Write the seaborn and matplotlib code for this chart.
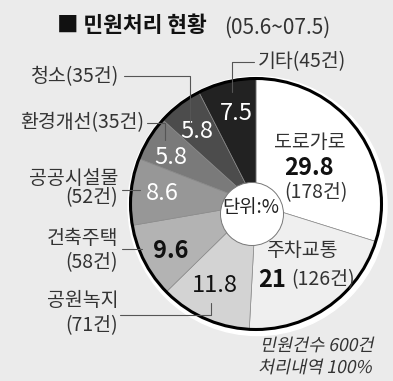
import matplotlib
matplotlib.use("Agg")
import matplotlib.pyplot as plt
import seaborn as sns
from matplotlib.patches import Circle, PathPatch
from matplotlib.textpath import TextPath
from matplotlib.font_manager import FontProperties
from matplotlib.transforms import Affine2D

# Data (clockwise from 12 o'clock)
categories = ["도로가로", "주차교통", "공원녹지", "건축주택", "공공시설물", "환경개선", "청소", "기타"]
percents = [29.8, 21, 11.8, 9.6, 8.6, 5.8, 5.8, 7.5]
counts = [178, 126, 71, 58, 52, 35, 35, 45]
shades = ["#ffffff", "#efefef", "#d3d3d3", "#b3b3b3", "#979797", "#7a7a7a", "#4c4c4c", "#222222"]

title_main = "■ 민원처리 현황"
title_period = "(05.6~07.5)"
unit_label = "단위:%"
footnote = ["민원건수 600건", "처리내역 100%"]

sns.set_theme(style="white")
plt.rcParams["font.family"] = ["Noto Sans CJK KR", "DejaVu Sans"]
BG = "#ebebeb"

fig = plt.figure(figsize=(3.93, 3.81), dpi=100, facecolor=BG)
ax = fig.add_axes([0, 0, 1, 1])
ax.set_facecolor(BG)

CX, CY, R = 256, 204, 125.5

# white halo + pie
ax.add_patch(Circle((CX + 1.5, CY + 2), R + 4, color="white", zorder=0))
wedges, _ = ax.pie(percents, colors=shades, startangle=-90, counterclock=True,
                   center=(CX, CY), radius=R,
                   wedgeprops=dict(edgecolor="#8a8a8a", linewidth=0.5))
ax.add_patch(Circle((CX, CY), R, fill=False, edgecolor="black", lw=2.2, zorder=3))
ax.add_patch(Circle((252, 214), 31.5, facecolor="white", edgecolor="#777777", lw=0.7, zorder=4))
ax.text(251, 208, unit_label, ha="center", va="center", fontsize=13.5, color="#222", zorder=5)

ax.set_xlim(0, 393)
ax.set_ylim(381, 0)
ax.axis("off")

# title
ax.text(57, 26, title_main, ha="left", va="center", fontsize=15.5, fontweight="bold", color="#111")
ax.text(224, 28, title_period, ha="left", va="center", fontsize=15, color="#333")

lab = dict(fontsize=14, color="#333")
# outside labels
ax.text(258, 62, f"{categories[7]}({counts[7]}건)", ha="left", va="center", **lab)
ax.text(119, 77, f"{categories[6]}({counts[6]}건)", ha="right", va="center", **lab)
ax.text(144, 123, f"{categories[5]}({counts[5]}건)", ha="right", va="center", **lab)
ax.text(118, 179, categories[4], ha="right", va="center", **lab)
ax.text(118, 198, f"({counts[4]}건)", ha="right", va="center", **lab)
ax.text(118, 239, categories[3], ha="right", va="center", **lab)
ax.text(118, 263, f"({counts[3]}건)", ha="right", va="center", **lab)
ax.text(118, 300, categories[2], ha="right", va="center", **lab)
ax.text(118, 326, f"({counts[2]}건)", ha="right", va="center", **lab)

# leader lines
leaders = [
    ([254, 232, 232], [62, 62, 92]),
    ([124, 190, 190], [76, 76, 122]),
    ([147, 165, 165], [123, 123, 140]),
    ([122, 140], [190, 190]),
    ([122, 142], [249, 249]),
    ([120, 211, 211], [315, 315, 303]),
]
for xs, ys in leaders:
    ax.plot(xs, ys, color="#555555", lw=0.8, zorder=6)

# values inside slices
num = dict(fontsize=17, ha="center", va="center", zorder=5)
ax.text(236, 114, f"{percents[7]}", color="white", **num)
ax.text(197, 132, f"{percents[6]}", color="white", **num)
ax.text(171, 157, f"{percents[5]}", color="white", **num)
ax.text(162, 194, f"{percents[4]}", color="white", **num)
ax.text(171, 251, f"{percents[3]}", color="#111", fontweight="bold", **num)
ax.text(215, 286, f"{percents[2]}", color="#111", **num)

ax.text(310, 142, categories[0], ha="center", va="center", **lab)
ax.text(309, 168, f"{percents[0]}", color="#111", fontweight="bold", **num)
ax.text(316, 193, f"({counts[0]}건)", ha="center", va="center", **lab)

ax.text(302, 251, categories[1], ha="center", va="center", **lab)
ax.text(286, 280, f"{percents[1]}", ha="right", va="center", fontsize=17, fontweight="bold", color="#111")
ax.text(291, 280, f"({counts[1]}건)", ha="left", va="center", **lab)

# italic footnote via skewed text paths
fp = FontProperties(family="Noto Sans CJK KR", size=17.5)
for line, ybase in zip(footnote, [351, 373]):
    tp = TextPath((0, 0), line, prop=fp)
    w = tp.get_extents().width
    tr = Affine2D().skew_deg(12, 0).scale(1, -1).translate(370 - w, ybase)
    ax.add_patch(PathPatch(tr.transform_path(tp), facecolor="#333", edgecolor="none", zorder=6))

fig.savefig("out.png", dpi=100, facecolor=BG)
